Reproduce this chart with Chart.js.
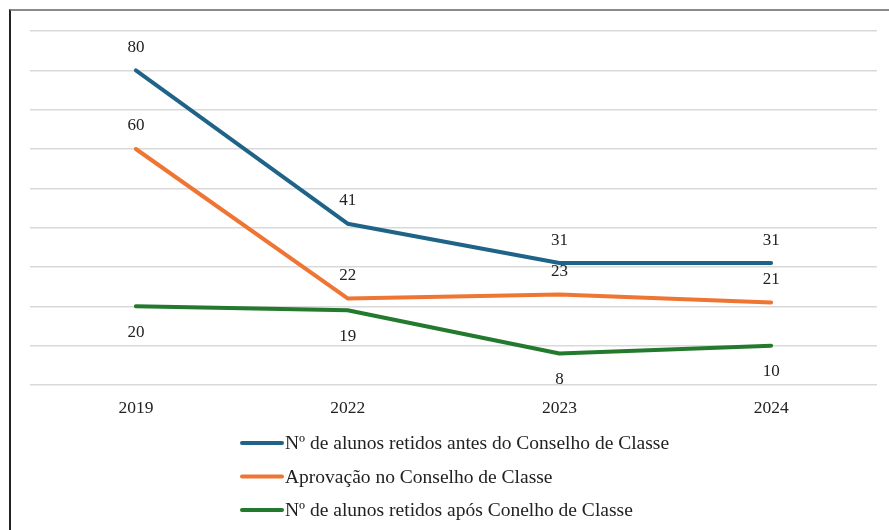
<!DOCTYPE html>
<html>
<head>
<meta charset="utf-8">
<script src="https://cdn.jsdelivr.net/npm/chart.js@4"></script>
<style>
  html, body { margin: 0; padding: 0; background: #fff; }
  #frame {
    position: absolute; left: 9px; top: 9px; width: 880px; height: 521px;
    border-top: 2px solid #8a8a8a; border-left: 2px solid #222;
    box-sizing: border-box;
  }
  #box { position: absolute; left: 0; top: 0; width: 878px; height: 519px; }
</style>
</head>
<body>
<div id="frame"><div id="box"><canvas id="myChart"></canvas></div></div>
<script>
var anos = ['2019', '2022', '2023', '2024'];
var retidosAntes = [80, 41, 31, 31];
var aprovacao = [60, 22, 23, 21];
var retidosApos = [20, 19, 8, 10];
var nomes = [
  'Nº de alunos retidos antes do Conselho de Classe',
  'Aprovação no Conselho de Classe',
  'Nº de alunos retidos após Conelho de Classe'
];
var cores = ['#1f6488', '#ef7533', '#237a2e'];
var posRotulo = ['above', 'above', 'below'];

var fonte = '"Liberation Serif", "Times New Roman", serif';

// rótulos de valor em cada ponto
var rotulos = {
  id: 'rotulos',
  afterDatasetsDraw: function (chart) {
    var ctx = chart.ctx;
    ctx.save();
    ctx.font = '17px ' + fonte;
    ctx.fillStyle = '#222';
    ctx.textAlign = 'center';
    ctx.textBaseline = 'middle';
    chart.data.datasets.forEach(function (ds, i) {
      chart.getDatasetMeta(i).data.forEach(function (pt, j) {
        var dy = posRotulo[i] == 'above' ? -23 : 26;
        ctx.fillText(ds.data[j], pt.x, pt.y + dy);
      });
    });
    ctx.restore();
  }
};

// legenda vertical em baixo
var legenda = {
  id: 'legenda',
  afterDraw: function (chart) {
    var ctx = chart.ctx;
    ctx.save();
    ctx.font = '19.5px ' + fonte;
    ctx.textBaseline = 'middle';
    ctx.textAlign = 'left';
    chart.data.datasets.forEach(function (ds, i) {
      var y = 432 + i * 33.5;
      ctx.strokeStyle = ds.borderColor;
      ctx.lineWidth = 4;
      ctx.lineCap = 'round';
      ctx.beginPath();
      ctx.moveTo(231, y);
      ctx.lineTo(271, y);
      ctx.stroke();
      ctx.fillStyle = '#222';
      ctx.fillText(ds.label, 274, y + 1);
    });
    ctx.restore();
  }
};

var ctx = document.getElementById('myChart');
var myChart = new Chart(ctx, {
  type: 'line',
  data: {
    labels: anos,
    datasets: [
      { label: nomes[0], data: retidosAntes, borderColor: cores[0], backgroundColor: cores[0] },
      { label: nomes[1], data: aprovacao, borderColor: cores[1], backgroundColor: cores[1] },
      { label: nomes[2], data: retidosApos, borderColor: cores[2], backgroundColor: cores[2] }
    ]
  },
  options: {
    responsive: true,
    maintainAspectRatio: false,
    animation: false,
    layout: { padding: { left: 19, right: 12, top: 20, bottom: 106 } },
    elements: {
      line: { borderWidth: 4, tension: 0, borderCapStyle: 'round', borderJoinStyle: 'round' },
      point: { radius: 0, hoverRadius: 0 }
    },
    plugins: {
      legend: { display: false },
      tooltip: { enabled: false }
    },
    scales: {
      x: {
        offset: true,
        grid: { display: false },
        border: { display: false },
        ticks: { color: '#222', font: { family: fonte, size: 17.5 }, padding: 5 }
      },
      y: {
        min: 0, max: 90,
        ticks: { display: false, stepSize: 10 },
        grid: { color: '#d9d9d9', lineWidth: 1.5, drawTicks: false },
        border: { display: false }
      }
    }
  },
  plugins: [rotulos, legenda]
});
</script>
</body>
</html>
